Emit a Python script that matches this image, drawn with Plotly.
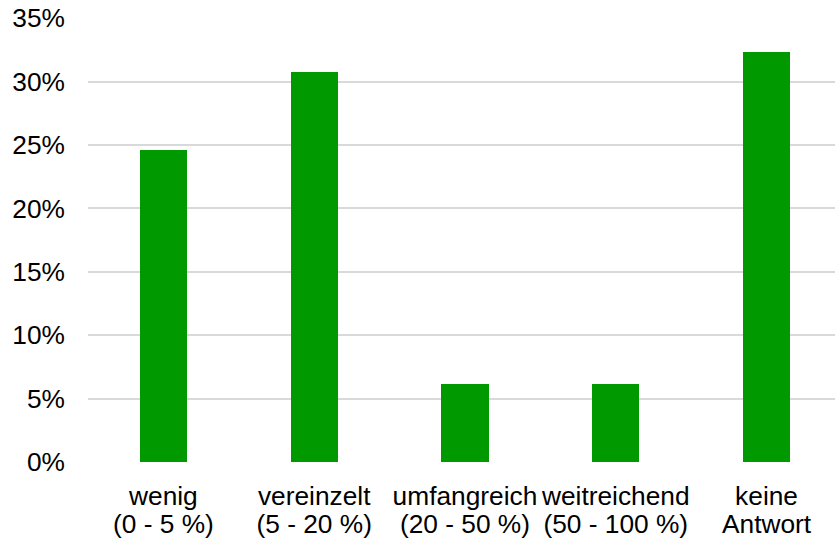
import plotly.graph_objects as go

cat_line1 = ["wenig", "vereinzelt", "umfangreich", "weitreichend", "keine"]
cat_line2 = ["(0 - 5 %)", "(5 - 20 %)", "(20 - 50 %)", "(50 - 100 %)", "Antwort"]
values = [0.246, 0.308, 0.0615, 0.0615, 0.323]
y_ticks = [0, 0.05, 0.10, 0.15, 0.20, 0.25, 0.30, 0.35]
y_tick_labels = ["0%", "5%", "10%", "15%", "20%", "25%", "30%", "35%"]

pos = list(range(len(cat_line1)))

fig = go.Figure(go.Bar(x=pos, y=values,
                       marker=dict(color="#009900", line=dict(width=0)), width=0.314))

fig.update_layout(
    width=835, height=541,
    margin=dict(l=88, r=0, t=18, b=79),
    paper_bgcolor="white", plot_bgcolor="white",
    font=dict(family="Liberation Sans, Arial, sans-serif", size=26.3, color="#000000"),
    showlegend=False,
    bargap=0,
    xaxis=dict(
        tickmode="array", tickvals=pos, ticktext=cat_line1,
        range=[-0.5, 4.454], showgrid=False, zeroline=False, showline=False, ticks="",
        tickangle=0, automargin=False, ticklabelstandoff=16,
    ),
    xaxis2=dict(
        tickmode="array", tickvals=pos, ticktext=cat_line2,
        range=[-0.5, 4.454], matches="x", overlaying="x", side="bottom",
        showgrid=False, zeroline=False, showline=False, ticks="",
        tickangle=0, automargin=False, ticklabelstandoff=44,
    ),
    yaxis=dict(
        tickmode="array", tickvals=y_ticks, ticktext=y_tick_labels,
        range=[0, 0.3502], showgrid=True, gridcolor="#d9d9d9", gridwidth=1.5,
        zeroline=False, showline=False, ticks="", ticklabelstandoff=22, automargin=False,
    ),
)
# invisible helper trace so the second category axis is drawn
fig.add_trace(go.Scatter(x=pos, y=[None] * len(pos), xaxis="x2", yaxis="y",
                         mode="markers", showlegend=False, hoverinfo="skip"))
fig.write_html("out.html", config={"displayModeBar": False},
               post_script="document.body.style.margin='0';document.body.style.overflow='hidden';")
